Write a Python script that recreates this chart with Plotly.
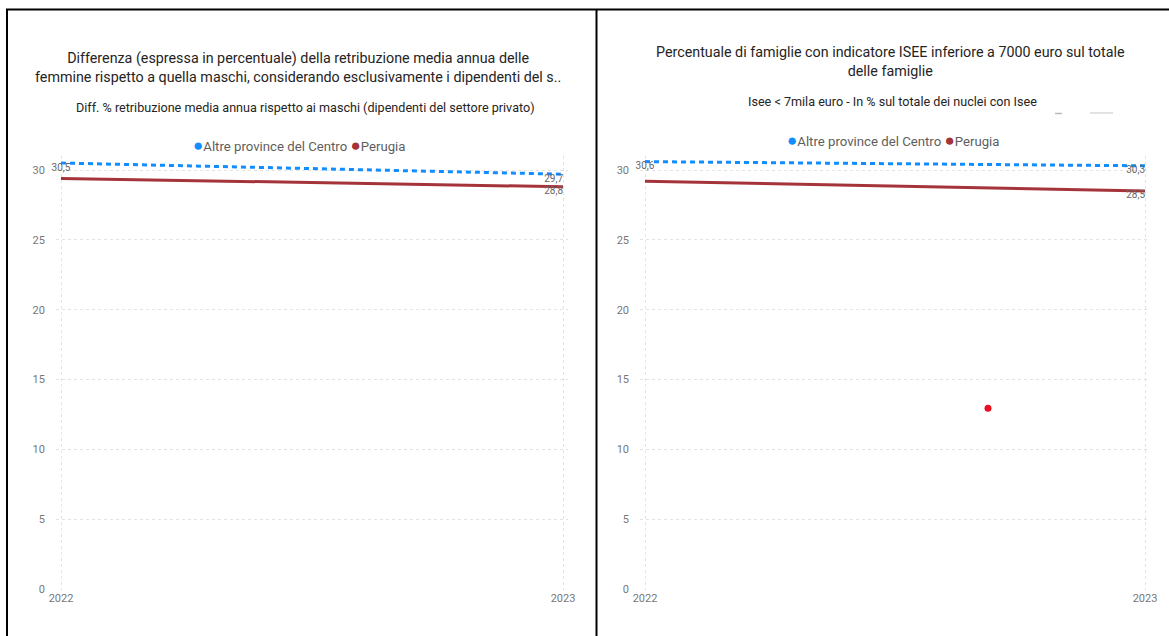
import plotly.graph_objects as go

W, H = 1169, 636

years = [2022, 2023]
# Left panel: gender pay gap
left_altre = [30.5, 29.7]
left_perugia = [29.4, 28.8]
# Right panel: ISEE < 7000
right_altre = [30.6, 30.3]
right_perugia = [29.2, 28.5]
stray_x = [2022.686]
stray_y = [12.95]

y_ticks = [0, 5, 10, 15, 20, 25, 30]

left_title = ("Differenza (espressa in percentuale) della retribuzione media annua delle<br>"
              "femmine rispetto a quella maschi, considerando esclusivamente i dipendenti del s..")
left_sub = "Diff. % retribuzione media annua rispetto ai maschi (dipendenti del settore privato)"
right_title = ("Percentuale di famiglie con indicatore ISEE inferiore a 7000 euro sul totale<br>"
               "delle famiglie")
right_sub = "Isee &lt; 7mila euro - In % sul totale dei nuclei con Isee"
legend_names = ["Altre province del Centro", "Perugia"]

BLUE = "#118DFF"
RED = "#A4343A"
FONT = "Roboto"

def px(x):
    return x / W

def py(y):
    return 1 - y / H

fig = go.Figure()

def add_panel(xa, ya, altre, perugia, pos_altre, pos_per, show_per):
    fig.add_trace(go.Scatter(
        x=years, y=altre, mode="lines+text", xaxis=xa, yaxis=ya,
        line=dict(color=BLUE, width=3, dash="5px,4px"),
        text=altre, texttemplate="%{y:.1f}", textposition=pos_altre,
        textfont=dict(size=10, color="#666666", family=FONT),
        cliponaxis=False, showlegend=False, hoverinfo="skip"))
    fig.add_trace(go.Scatter(
        x=years, y=perugia, mode="lines+text", xaxis=xa, yaxis=ya,
        line=dict(color=RED, width=3),
        text=[t if s else "" for t, s in zip(perugia, show_per)],
        texttemplate=[("%{y:.1f}" if s else "") for s in show_per],
        textposition=pos_per,
        textfont=dict(size=10, color="#666666", family=FONT),
        cliponaxis=False, showlegend=False, hoverinfo="skip"))

add_panel("x", "y", left_altre, left_perugia,
          ["bottom center", "bottom left"], ["bottom center", "bottom left"], [False, True])
add_panel("x2", "y2", right_altre, right_perugia,
          ["bottom center", "bottom left"], ["bottom center", "bottom left"], [False, True])

fig.add_trace(go.Scatter(x=stray_x, y=stray_y, mode="markers", xaxis="x2", yaxis="y2",
                         marker=dict(color="#E81123", size=7), showlegend=False, hoverinfo="skip"))

# geometry
y0_px, y30_px = 589, 170
per = (y0_px - y30_px) / 30
ymin, ymax = -0.05, 31.0
ydom = [py(y0_px + (0 - ymin) * per), py(y30_px - (ymax - 30) * per)]
pad = 0.01

def xdom(a, b):
    w = b - a
    return [px(a - pad * w), px(b + pad * w)]

axis_common = dict(showgrid=True, gridcolor="#E3E3E3", griddash="dot", gridwidth=1,
                   zeroline=False, showline=False, ticks="", automargin=False,
                   tickfont=dict(size=11, color="#777777", family=FONT))

fig.update_layout(
    width=W, height=H, margin=dict(l=0, r=0, t=0, b=0, autoexpand=False),
    paper_bgcolor="white", plot_bgcolor="white",
    separators=",.",
    font=dict(family=FONT),
    xaxis=dict(domain=xdom(61, 563), range=[2022 - pad, 2023 + pad], tickvals=years,
               ticktext=[str(y) for y in years], anchor="y", **axis_common),
    yaxis=dict(domain=ydom, range=[ymin, ymax], tickvals=y_ticks, anchor="x",
               ticklabelstandoff=10, **axis_common),
    xaxis2=dict(domain=xdom(645, 1145), range=[2022 - pad, 2023 + pad], tickvals=years,
                ticktext=[str(y) for y in years], anchor="y2", **axis_common),
    yaxis2=dict(domain=ydom, range=[ymin, ymax], tickvals=y_ticks, anchor="x2",
                ticklabelstandoff=10, **axis_common),
)

ann = []
def add_text(x, y, text, size, color, weight="normal"):
    ann.append(dict(x=px(x), y=py(y), xref="paper", yref="paper", text=text, showarrow=False,
                    xanchor="center", yanchor="middle",
                    font=dict(size=size, color=color, family=FONT, weight=weight)))

add_text(298, 68, left_title, 14.3, "#252423")
add_text(305, 108, left_sub, 12.6, "#252423")
add_text(891, 62, right_title, 14.3, "#252423")
add_text(892, 101, right_sub, 12.6, "#252423")

def legend_html():
    return (f"<span style='color:{BLUE};font-size:17px'>●</span>{legend_names[0]} "
            f"<span style='color:{RED};font-size:17px'>●</span>{legend_names[1]}")

add_text(299, 145, legend_html(), 13.2, "#605E5C")
add_text(893, 140, legend_html(), 13.2, "#605E5C")
fig.update_layout(annotations=ann)

# panel borders and small artefacts
shapes = [
    dict(type="line", xref="paper", yref="paper", x0=px(6), x1=1, y0=py(9.5), y1=py(9.5),
         line=dict(color="black", width=2)),
    dict(type="line", xref="paper", yref="paper", x0=px(7), x1=px(7), y0=py(9), y1=0,
         line=dict(color="black", width=2)),
    dict(type="line", xref="paper", yref="paper", x0=px(596.5), x1=px(596.5), y0=py(9), y1=0,
         line=dict(color="black", width=2)),
    dict(type="line", xref="paper", yref="paper", x0=px(1055), x1=px(1062), y0=py(113.5), y1=py(113.5),
         line=dict(color="#BBBBBB", width=1.5)),
    dict(type="line", xref="paper", yref="paper", x0=px(1090), x1=px(1113), y0=py(113), y1=py(113),
         line=dict(color="#D8D8D8", width=1.5)),
]
fig.update_layout(shapes=shapes)

fig.write_html("out.html", config={"displayModeBar": False},
               post_script="document.body.style.margin='0';document.body.style.overflow='hidden';")
